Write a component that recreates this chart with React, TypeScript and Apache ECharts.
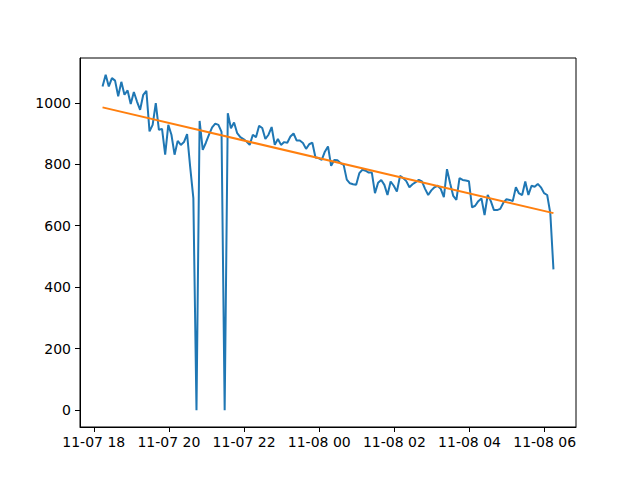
import React, { useEffect, useRef } from "react";
import * as echarts from "echarts";

// Start time of the series (UTC), 5-minute sampling
const startTime = Date.UTC(2000, 10, 7, 18, 14);
const stepMinutes = 5;

const values: number[] = [
  1053, 1091, 1053, 1080, 1072, 1021, 1068, 1026, 1040, 996,
  1035, 1004, 977, 1026, 1039, 907, 928, 999, 912, 915,
  831, 928, 896, 831, 876, 863, 872, 898, 790, 690,
  0, 941, 847, 870, 896, 920, 932, 928, 905, 0,
  966, 917, 936, 901, 888, 882, 874, 863, 896, 888,
  925, 918, 882, 896, 921, 863, 882, 863, 872, 870,
  890, 900, 877, 877, 869, 850, 865, 870, 822, 820,
  814, 841, 858, 795, 814, 813, 804, 798, 750, 738,
  735, 733, 771, 782, 779, 773, 773, 706, 740, 749,
  733, 700, 744, 730, 711, 762, 755, 745, 725, 735,
  742, 749, 744, 720, 700, 715, 725, 730, 720, 693,
  784, 738, 697, 684, 755, 749, 747, 745, 660, 665,
  680, 689, 635, 700, 680, 651, 651, 655, 675, 686,
  684, 680, 725, 705, 700, 744, 700, 730, 727, 736,
  725, 706, 700, 640, 458,
];

// Linear trend line: value at first and last sample
const trendValues: number[] = [985, 641];

// X tick positions (every 2 hours) and their labels
const xTickHours: number[] = [18, 20, 22, 24, 26, 28, 30];
const xTickLabels: string[] = [
  "11-07 18", "11-07 20", "11-07 22", "11-08 00", "11-08 02", "11-08 04", "11-08 06",
];
const yTicks: number[] = [0, 200, 400, 600, 800, 1000];

const HOUR = 3600 * 1000;
const dayStart = Date.UTC(2000, 10, 7, 0, 0);

export default function App() {
  const ref = useRef<HTMLDivElement>(null);

  useEffect(() => {
    if (!ref.current) return;
    const chart = echarts.init(ref.current, undefined, { renderer: "svg" });

    const times = values.map((_, i) => startTime + i * stepMinutes * 60 * 1000);
    const lineData = values.map((v, i) => [times[i], v]);
    const tFirst = times[0];
    const tLast = times[times.length - 1];
    const trendData = [
      [tFirst, trendValues[0]],
      [tLast, trendValues[1]],
    ];

    const xSpan = tLast - tFirst;
    const xMin = tFirst - 0.05 * xSpan;
    const xMax = tLast + 0.05 * xSpan;
    const vMin = Math.min(...values);
    const vMax = Math.max(...values);
    const ySpan = vMax - vMin;
    const yMin = vMin - 0.05 * ySpan;
    const yMax = vMax + 0.05 * ySpan;

    const xTickTimes = xTickHours.map((h) => dayStart + h * HOUR);
    const labelFor = (v: number) => {
      let best = 0;
      let bd = Infinity;
      xTickTimes.forEach((t, i) => {
        const d = Math.abs(t - v);
        if (d < bd) {
          bd = d;
          best = i;
        }
      });
      return xTickLabels[best];
    };

    const font = "DejaVu Sans";
    chart.setOption({
      animation: false,
      backgroundColor: "#ffffff",
      grid: {
        left: 80,
        right: 64,
        top: 58,
        bottom: 53,
        show: true,
        borderColor: "#000000",
        borderWidth: 1,
        backgroundColor: "transparent",
      },
      xAxis: {
        type: "value",
        min: xMin,
        max: xMax,
        axisLine: { show: true, onZero: false, lineStyle: { color: "#000", width: 1 } },
        axisTick: {
          show: true,
          customValues: xTickTimes,
          length: 5,
          lineStyle: { color: "#000", width: 1 },
        },
        axisLabel: {
          customValues: xTickTimes,
          formatter: (v: number) => labelFor(v),
          color: "#000",
          fontSize: 14,
          fontFamily: font,
          margin: 8,
        },
        splitLine: { show: false },
      },
      yAxis: {
        type: "value",
        min: yMin,
        max: yMax,
        axisLine: { show: true, onZero: false, lineStyle: { color: "#000", width: 1 } },
        axisTick: {
          show: true,
          customValues: yTicks,
          length: 5,
          lineStyle: { color: "#000", width: 1 },
        },
        axisLabel: {
          customValues: yTicks,
          formatter: (v: number) => String(Math.round(v)),
          color: "#000",
          fontSize: 14,
          fontFamily: font,
          margin: 9,
        },
        splitLine: { show: false },
      },
      series: [
        {
          type: "line",
          data: lineData,
          showSymbol: false,
          lineStyle: { color: "#1f77b4", width: 2 },
          itemStyle: { color: "#1f77b4" },
          z: 2,
        },
        {
          type: "line",
          data: trendData,
          showSymbol: false,
          lineStyle: { color: "#ff7f0e", width: 2 },
          itemStyle: { color: "#ff7f0e" },
          z: 3,
        },
      ],
    });

    return () => chart.dispose();
  }, []);

  return (
    <div
      ref={ref}
      style={{ position: "fixed", left: 0, top: 0, width: 640, height: 480, background: "#fff" }}
    />
  );
}
